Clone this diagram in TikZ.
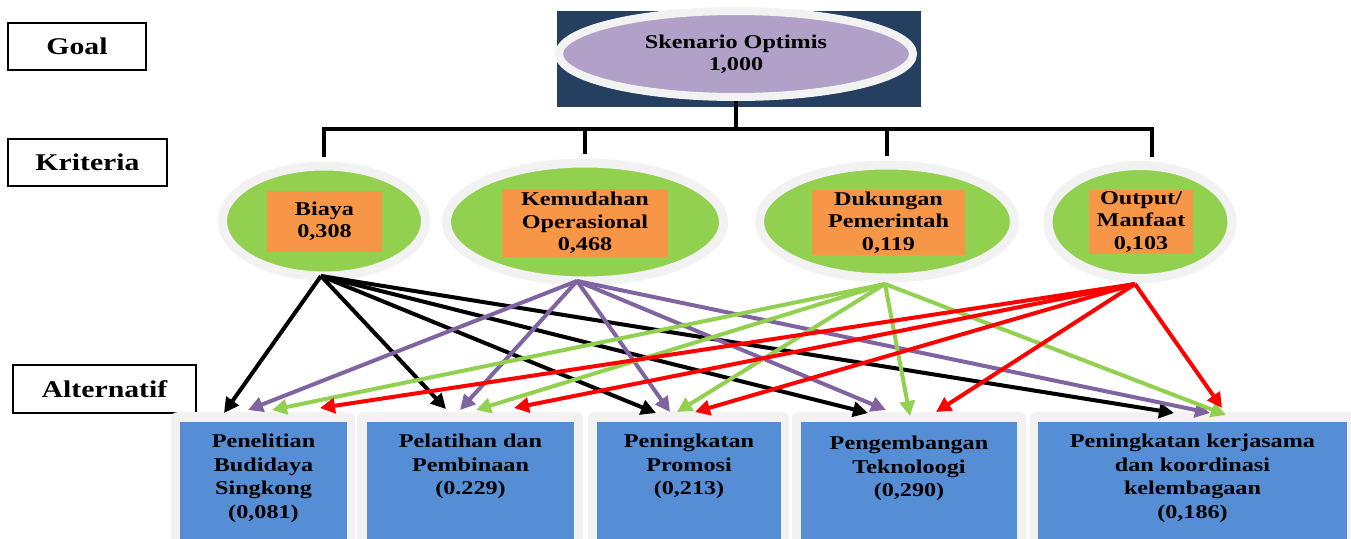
\documentclass[tikz,border=0pt]{standalone}
\usepackage{fontspec}
\setmainfont[FakeStretch=1.24]{Liberation Serif}
\usetikzlibrary{arrows.meta,positioning,shapes.geometric}

\definecolor{navy}{HTML}{243F60}
\definecolor{lilac}{HTML}{B1A0C7}
\definecolor{ringgrey}{HTML}{F2F2F2}
\definecolor{leafgreen}{HTML}{92D050}
\definecolor{boxorange}{HTML}{F79646}
\definecolor{altblue}{HTML}{558ED5}
\definecolor{arrpurple}{HTML}{8064A2}

\begin{document}
\begin{tikzpicture}[x=1pt, y=-1pt]
\tikzset{levelbox/.style={draw,line width=2pt,inner sep=0,font=\fontsize{24}{28}\selectfont\bfseries},
critring/.style={ellipse,fill=leafgreen,draw=ringgrey,line width=9pt,inner sep=0},
critbox/.style={fill=boxorange,inner sep=0,align=center,font=\fontsize{19.5}{22.4}\selectfont\bfseries},
altback/.style={fill=ringgrey,rounded corners=6pt,inner sep=0,anchor=north},
altbox/.style={fill=altblue,inner sep=0,anchor=north},
alttext/.style={align=center,inner sep=0,font=\fontsize{19.5}{23.5}\selectfont\bfseries},
hier/.style={line width=4pt},
link/.style={line width=4pt,-{Triangle[length=15pt,width=15pt]}}}

\useasboundingbox (0,0) rectangle (1351,538);

\node (lgoal) [levelbox,minimum width=138,minimum height=47] at (77,46.5) {Goal};
\node (lkrit) [levelbox,minimum width=159,minimum height=47] at (87.5,162.5) {Kriteria};
\node (lalt) [levelbox,minimum width=183,minimum height=48] at (104.5,389) {Alternatif};

%% Goal
\node (goalbg) [fill=navy,inner sep=0,minimum width=364,minimum height=96] at (739,59) {};
\node (goal) [ellipse,fill=lilac,draw=ringgrey,line width=8pt,inner sep=0,
  minimum width=354,minimum height=86,align=center,
  font=\fontsize{19.5}{21.5}\selectfont\bfseries] at (736,54) {Skenario Optimis\\1,000};

%% Kriteria
\node (biaya) [critring,minimum width=203,minimum height=110] at (324,221) {};
\node (mudah) [critring,minimum width=277,minimum height=118] at (585,222) {};
\node (dukung) [critring,minimum width=255,minimum height=113] at (887,221.5) {};
\node (manfaat) [critring,minimum width=184,minimum height=113] at (1140,222) {};

\node (biayab) [critbox,minimum width=115,minimum height=61] at (324.5,221.5) {Biaya\\0,308};
\node (mudahb) [critbox,minimum width=166,minimum height=68] at (585,223) {Kemudahan\\Operasional\\0,468};
\node (dukungb) [critbox,minimum width=153,minimum height=65] at (888.5,222.5) {Dukungan\\Pemerintah\\0,119};
\node (manfaatb) [critbox,minimum width=104,minimum height=64] at (1141,222) {Output/\\Manfaat\\0,103};

\coordinate (hub) at (736,129);
\draw[hier] (goal.south) -- (goal.south |- hub);
\draw[hier] ([yshift=4.5pt]biaya.north) |- (hub) -| ([shift={(12pt,4.5pt)}]manfaat.north);
\draw[hier] (mudah.north |- hub) -- ([yshift=4.5pt]mudah.north);
\draw[hier] (dukung.north |- hub) -- ([yshift=4.5pt]dukung.north);

%% Alternatif
\foreach \n/\l/\r in {1/171/355, 2/357/583, 3/588/789, 4/792/1026, 5/1030/1356}
  \node (back\n) [altback,minimum width={\r-\l},minimum height=140] at ({(\l+\r)/2},412) {};
\foreach \n/\l/\r in {1/180/347, 2/367/574, 3/597/781, 4/801/1017, 5/1038/1347}
  \node (box\n) [altbox,minimum width={\r-\l},minimum height=130] at ({(\l+\r)/2},422) {};

\node (alt1) [alttext,below=12pt of box1.north] {Penelitian\\Budidaya\\Singkong\\(0,081)};
\node (alt2) [alttext,below=12pt of box2.north] {Pelatihan dan\\Pembinaan\\(0.229)};
\node (alt3) [alttext,below=12pt of box3.north] {Peningkatan\\Promosi\\(0,213)};
\node (alt4) [alttext,below=14pt of box4.north] {Pengembangan\\Teknoloogi\\(0,290)};
\node (alt5) [alttext,below=12pt of box5.north] {Peningkatan kerjasama\\dan koordinasi\\kelembagaan\\(0,186)};

%% Edges
\coordinate (sb) at (321,276);
\coordinate (sp) at (577,281);
\coordinate (sg) at (885,284);
\coordinate (sr) at (1135,284);
\foreach \n/\x/\y in {t1b/224/413, t1p/248/410, t1g/272/410, t1r/320/408,
  t2b/446/409, t2p/460/410, t2g/476/410, t2r/514/408,
  t3b/656/413, t3p/670/412, t3g/677/412, t3r/695/412,
  t4b/868/413, t4p/886/410, t4g/910/416, t4r/936/412,
  t5b/1174/413, t5p/1210/413, t5g/1226/415, t5r/1222/408}
  \coordinate (\n) at (\x,\y);

\foreach \k/\c in {b/black, p/arrpurple, g/leafgreen, r/red}
  \foreach \a in {1,...,5}
    \draw[link,\c] (s\k) -- (t\a\k);

\end{tikzpicture}
\end{document}
